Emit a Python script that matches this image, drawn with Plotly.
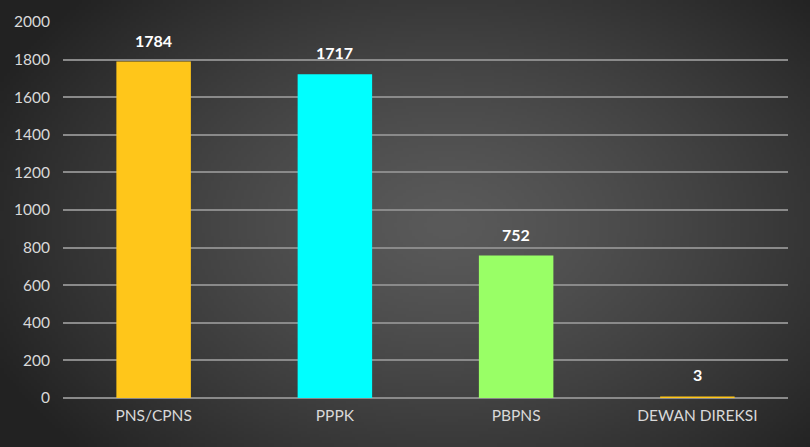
import base64, struct, zlib
import numpy as np
import plotly.graph_objects as go

categories = ["PNS/CPNS", "PPPK", "PBPNS", "DEWAN DIREKSI"]
values = [1784, 1717, 752, 3]
bar_colors = ["#ffc61a", "#00ffff", "#99ff66", "#ffc61a"]
y_ticks = [0, 200, 400, 600, 800, 1000, 1200, 1400, 1600, 1800, 2000]

W, H = 810, 447
ML, MR, MT, MB = 63, 22, 22, 49
PW, PH = W - ML - MR, H - MT - MB


def radial_png(w, h):
    yy, xx = np.mgrid[0:h, 0:w]
    cx, cy = w * 0.55, h * 0.5
    d = np.sqrt(((xx - cx) / (w * 0.62)) ** 2 + ((yy - cy) / (h * 0.75)) ** 2)
    d = np.clip(d, 0, 1)
    inner, outer = 90, 34
    v = (inner + (outer - inner) * d ** 1.3).astype(np.uint8)
    rgb = np.stack([v, v, v], axis=-1)
    raw = b"".join(b"\x00" + rgb[r].tobytes() for r in range(h))

    def chunk(t, data):
        c = struct.pack(">I", len(data)) + t + data
        return c + struct.pack(">I", zlib.crc32(t + data) & 0xFFFFFFFF)

    png = b"\x89PNG\r\n\x1a\n"
    png += chunk(b"IHDR", struct.pack(">IIBBBBB", w, h, 8, 2, 0, 0, 0))
    png += chunk(b"IDAT", zlib.compress(raw, 9))
    png += chunk(b"IEND", b"")
    return "data:image/png;base64," + base64.b64encode(png).decode()


fig = go.Figure()
fig.add_trace(go.Bar(
    x=categories, y=values,
    marker=dict(color=bar_colors, line=dict(width=2, color=bar_colors)),
    width=0.4,
    hoverinfo="skip",
))

for c, v in zip(categories, values):
    fig.add_annotation(
        x=c, y=v, text=f"<b>{v}</b>", showarrow=False,
        yanchor="bottom", yshift=11,
        font=dict(family="Lato, Open Sans, sans-serif", size=16, color="#ffffff"),
    )

fig.add_layout_image(dict(
    source=radial_png(270, 149),
    xref="paper", yref="paper",
    x=-ML / PW, y=1 + MT / PH,
    sizex=W / PW, sizey=H / PH,
    xanchor="left", yanchor="top",
    sizing="stretch", layer="below",
))

fig.update_layout(
    width=W, height=H,
    margin=dict(l=ML, r=MR, t=MT, b=MB),
    paper_bgcolor="#3a3a3a",
    plot_bgcolor="rgba(0,0,0,0)",
    showlegend=False,
    font=dict(family="Lato, Open Sans, sans-serif", size=15.5, color="#d9d9d9"),
    xaxis=dict(showgrid=False, showline=False, zeroline=False, ticks="",
               ticklabelstandoff=6,
               tickfont=dict(size=15.5, color="#d9d9d9")),
    yaxis=dict(range=[0, 2000], tickvals=y_ticks, showgrid=True,
               gridcolor="#8a8a8a", gridwidth=1.6, zeroline=True,
               zerolinecolor="#8a8a8a", zerolinewidth=1.6, showline=False,
               ticks="", ticklabelstandoff=12,
               tickfont=dict(size=15.5, color="#d9d9d9")),
)

fig.write_html("out.html", config={"displayModeBar": False},
               post_script="document.body.style.margin='0px';")
